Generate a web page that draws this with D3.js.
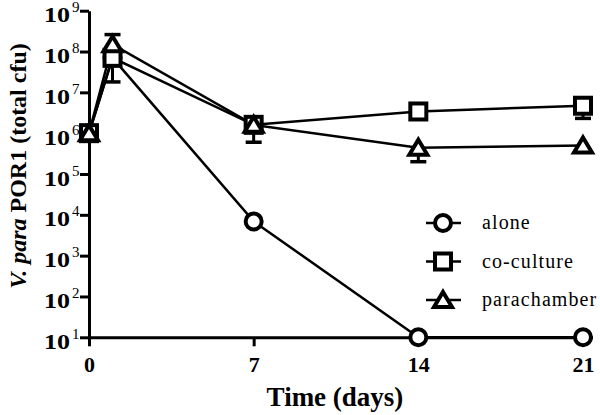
<!DOCTYPE html>
<html>
<head>
<meta charset="utf-8">
<script src="https://cdn.jsdelivr.net/npm/d3@7"></script>
<style>
  body { margin: 0; background: #fff; }
  text { font-family: "Liberation Serif", "Times New Roman", serif; fill: #000; }
</style>
</head>
<body>
<div id="chart"></div>
<script>
var width = 600;
var height = 415;

// data
var days = [0, 1, 7, 14, 21];
var alone = [1e6, 7e7, 6.9e3, 10, 10];
var coculture = [1e6, 7e7, 1.6e6, 3.4e6, 4.7e6];
var cocultureLo = [null, 1.8e7, 6e5, null, 2.3e6];
var parachamber = [1e6, 1.5e8, 1.6e6, 4.4e5, 5e5];
var parachamberHi = [null, 2.6e8, null, null, null];
var parachamberLo = [null, null, null, 2e5, null];
var xTicks = [0, 7, 14, 21];
var yTicks = [1e1, 1e2, 1e3, 1e4, 1e5, 1e6, 1e7, 1e8, 1e9];
var legendNames = ["alone", "co-culture", "parachamber"];

var svg = d3.select('#chart').append('svg')
    .attr('width', width)
    .attr('height', height);

var x = d3.scaleLinear().domain([0, 21.4]).range([89, 592.4]);
var y = d3.scaleLog().domain([10, 1e9]).range([337.3, 10.7]);

// axes
var xAxis = svg.append('g')
    .attr('transform', 'translate(0,' + y(10) + ')')
    .call(d3.axisBottom(x).tickValues(xTicks).tickSize(9).tickSizeOuter(0).tickFormat(d3.format('d')));
xAxis.select('.domain').attr('stroke-width', 3);
xAxis.selectAll('.tick line').attr('stroke-width', 3);
xAxis.selectAll('.tick text')
    .attr('y', 19)
    .style('font-size', '22px')
    .style('font-weight', 'bold');

var yAxis = svg.append('g')
    .attr('transform', 'translate(' + x(0) + ',0)')
    .call(d3.axisLeft(y).tickValues(yTicks).tickSize(9).tickSizeOuter(0).tickFormat(''));
yAxis.select('.domain').attr('stroke-width', 3);
yAxis.selectAll('.tick line').attr('stroke-width', 3);

yAxis.selectAll('.tick').append('text')
    .attr('x', -19)
    .attr('y', 11)
    .attr('text-anchor', 'end')
    .attr('textLength', 26)
    .attr('lengthAdjust', 'spacingAndGlyphs')
    .style('font-size', '21px')
    .style('font-weight', 'bold')
    .text('10');
yAxis.selectAll('.tick').append('text')
    .attr('x', -17)
    .attr('y', 1)
    .attr('text-anchor', 'start')
    .style('font-size', '15px')
    .text(function(d) { return Math.round(Math.log10(d)); });

// axis titles
svg.append('text')
    .attr('x', 335)
    .attr('y', 406)
    .attr('text-anchor', 'middle')
    .style('font-size', '27px')
    .style('font-weight', 'bold')
    .text('Time (days)');

var yt = svg.append('text')
    .attr('transform', 'translate(26,166) rotate(-90)')
    .attr('text-anchor', 'middle')
    .style('font-size', '24px')
    .style('font-weight', 'bold');
yt.append('tspan').style('font-style', 'italic').text('V. para');
yt.append('tspan').text(' POR1 (total cfu)');

// lines
var line = d3.line()
    .x(function(d, i) { return x(days[i]); })
    .y(function(d) { return y(d); });

var series = [
    { name: legendNames[0], values: alone, shape: 'circle', lo: [], hi: [] },
    { name: legendNames[1], values: coculture, shape: 'square', lo: cocultureLo, hi: [] },
    { name: legendNames[2], values: parachamber, shape: 'triangle', lo: parachamberLo, hi: parachamberHi }
];

function drawMarker(g, shape) {
    if (shape === 'circle') {
        g.append('circle').attr('r', 8).attr('fill', '#fff').attr('stroke', '#000').attr('stroke-width', 4);
    } else if (shape === 'square') {
        g.append('rect').attr('x', -8).attr('y', -8).attr('width', 16).attr('height', 16)
            .attr('fill', '#fff').attr('stroke', '#000').attr('stroke-width', 4);
    } else {
        g.append('path').attr('d', 'M0,-8L9,7L-9,7Z')
            .attr('fill', '#fff').attr('stroke', '#000').attr('stroke-width', 4).attr('stroke-linejoin', 'miter');
    }
}

series.forEach(function(s) {
    svg.append('path')
        .datum(s.values)
        .attr('d', line)
        .attr('fill', 'none')
        .attr('stroke', '#000')
        .attr('stroke-width', 2.5);
});

series.forEach(function(s) {
    // error bars
    days.forEach(function(day, i) {
        [s.lo[i], s.hi[i]].forEach(function(e) {
            if (e == null) return;
            svg.append('line')
                .attr('x1', x(day)).attr('x2', x(day))
                .attr('y1', y(s.values[i])).attr('y2', y(e))
                .attr('stroke', '#000').attr('stroke-width', 3);
            svg.append('line')
                .attr('x1', x(day) - 8).attr('x2', x(day) + 8)
                .attr('y1', y(e)).attr('y2', y(e))
                .attr('stroke', '#000').attr('stroke-width', 3.5);
        });
    });
    svg.selectAll(null)
        .data(s.values)
        .enter().append('g')
        .attr('transform', function(d, i) { return 'translate(' + x(days[i]) + ',' + y(d) + ')'; })
        .each(function() { drawMarker(d3.select(this), s.shape); });
});

// legend
var legend = svg.selectAll('.legend')
    .data(series)
    .enter().append('g')
    .attr('class', 'legend')
    .attr('transform', function(d, i) { return 'translate(443,' + (223 + i * 38.5) + ')'; });
legend.append('line')
    .attr('x1', -17).attr('x2', 18)
    .attr('stroke', '#000').attr('stroke-width', 2.5);
legend.each(function(d) { drawMarker(d3.select(this), d.shape); });
legend.append('text')
    .attr('x', 39)
    .attr('dy', '0.3em')
    .style('font-size', '20px')
    .style('letter-spacing', '1.1px')
    .text(function(d) { return d.name; });
</script>
</body>
</html>
